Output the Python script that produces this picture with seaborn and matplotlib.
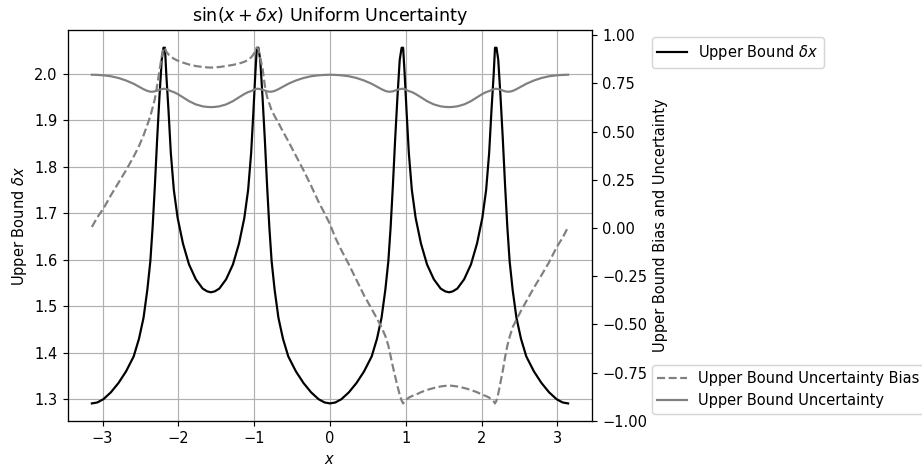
import numpy as np
import pandas as pd
import matplotlib
matplotlib.use("Agg")
import matplotlib.pyplot as plt
import seaborn as sns

# x samples
x_vals = [-3.1416, -3.07, -2.99, -2.89, -2.79, -2.69, -2.59, -2.52, -2.46, -2.41, -2.37,
          -2.34, -2.31, -2.28, -2.25, -2.22, -2.197, -2.177, -2.16, -2.13, -2.10,
          -2.06, -2.01, -1.94, -1.86, -1.77, -1.68, -1.62, -1.5708,
          -1.52, -1.46, -1.37, -1.28, -1.20, -1.13, -1.08, -1.04, -1.01, -0.985,
          -0.965, -0.945, -0.92, -0.89, -0.86, -0.83, -0.80, -0.77, -0.73,
          -0.68, -0.62, -0.55, -0.45, -0.35, -0.25, -0.15, -0.07, 0.0,
          0.07, 0.15, 0.25, 0.35, 0.45, 0.55, 0.62, 0.68, 0.73, 0.77, 0.80,
          0.83, 0.86, 0.89, 0.92, 0.945, 0.965, 0.985, 1.01, 1.04, 1.08,
          1.13, 1.20, 1.28, 1.37, 1.46, 1.52, 1.5708,
          1.62, 1.68, 1.77, 1.86, 1.94, 2.01, 2.06, 2.10, 2.13, 2.16, 2.177,
          2.197, 2.22, 2.25, 2.28, 2.31, 2.34, 2.37, 2.41, 2.46, 2.52,
          2.59, 2.69, 2.79, 2.89, 2.99, 3.07, 3.1416]

# upper bound delta x (left axis)
upper_dx = [1.291, 1.293, 1.300, 1.315, 1.335, 1.360, 1.392, 1.430, 1.475, 1.535, 1.597,
            1.670, 1.760, 1.860, 1.950, 2.030, 2.056, 2.056, 2.000, 1.920, 1.830,
            1.750, 1.690, 1.635, 1.590, 1.558, 1.538, 1.532, 1.530,
            1.532, 1.538, 1.558, 1.590, 1.635, 1.690, 1.750, 1.830, 1.920, 2.000,
            2.056, 2.056, 2.030, 1.950, 1.860, 1.760, 1.670, 1.597, 1.535,
            1.475, 1.430, 1.392, 1.360, 1.335, 1.315, 1.300, 1.293, 1.291,
            1.293, 1.300, 1.315, 1.335, 1.360, 1.392, 1.430, 1.475, 1.535, 1.597, 1.670,
            1.760, 1.860, 1.950, 2.030, 2.056, 2.056, 2.000, 1.920, 1.830, 1.750,
            1.690, 1.635, 1.590, 1.558, 1.538, 1.532, 1.530,
            1.532, 1.538, 1.558, 1.590, 1.635, 1.690, 1.750, 1.830, 1.920, 2.000, 2.056,
            2.056, 2.030, 1.950, 1.860, 1.760, 1.670, 1.597, 1.535, 1.475, 1.430,
            1.392, 1.360, 1.335, 1.315, 1.300, 1.293, 1.291]

# uncertainty bias (right axis, dashed)
unc_bias = [0.005, 0.055, 0.10, 0.17, 0.235, 0.30, 0.37, 0.425, 0.48, 0.535, 0.58,
            0.625, 0.67, 0.74, 0.815, 0.89, 0.935, 0.93, 0.915, 0.90, 0.89,
            0.878, 0.868, 0.858, 0.848, 0.84, 0.835, 0.833, 0.832,
            0.833, 0.835, 0.84, 0.846, 0.853, 0.862, 0.872, 0.885, 0.90, 0.918,
            0.935, 0.93, 0.88, 0.83, 0.74, 0.68, 0.645, 0.61, 0.58,
            0.545, 0.50, 0.45, 0.375, 0.30, 0.22, 0.135, 0.075, 0.02,
            -0.05, -0.115, -0.19, -0.27, -0.35, -0.42, -0.47, -0.515, -0.56, -0.61, -0.665,
            -0.72, -0.77, -0.82, -0.865, -0.895, -0.91, -0.90, -0.89, -0.88, -0.872,
            -0.865, -0.852, -0.84, -0.83, -0.822, -0.819, -0.817,
            -0.819, -0.822, -0.83, -0.84, -0.852, -0.865, -0.872, -0.88, -0.89, -0.90, -0.91,
            -0.895, -0.86, -0.80, -0.74, -0.67, -0.61, -0.565, -0.515, -0.475, -0.43,
            -0.38, -0.31, -0.245, -0.178, -0.10, -0.05, 0.005]

# uncertainty (right axis, solid)
unc = [0.795, 0.794, 0.792, 0.787, 0.778, 0.765, 0.748, 0.733, 0.720, 0.711, 0.707,
       0.707, 0.709, 0.713, 0.717, 0.720, 0.722, 0.722, 0.720, 0.716, 0.710,
       0.705, 0.695, 0.678, 0.658, 0.641, 0.631, 0.628, 0.627,
       0.628, 0.631, 0.641, 0.658, 0.678, 0.695, 0.705, 0.710, 0.716, 0.720,
       0.722, 0.722, 0.720, 0.717, 0.713, 0.709, 0.707, 0.707, 0.711,
       0.720, 0.733, 0.748, 0.765, 0.778, 0.787, 0.792, 0.794, 0.795,
       0.794, 0.792, 0.787, 0.778, 0.765, 0.748, 0.733, 0.720, 0.711, 0.707, 0.707,
       0.709, 0.713, 0.717, 0.720, 0.722, 0.722, 0.720, 0.716, 0.710, 0.705,
       0.695, 0.678, 0.658, 0.641, 0.631, 0.628, 0.627,
       0.628, 0.631, 0.641, 0.658, 0.678, 0.695, 0.705, 0.710, 0.716, 0.720, 0.722,
       0.722, 0.720, 0.717, 0.713, 0.709, 0.707, 0.707, 0.711, 0.720, 0.733,
       0.748, 0.765, 0.778, 0.787, 0.792, 0.794, 0.795]

df = pd.DataFrame({"x": x_vals, "dx": upper_dx, "bias": unc_bias, "unc": unc})

fig, ax = plt.subplots(figsize=(922 / 105, 468 / 105), dpi=105)
fig.subplots_adjust(left=0.0738, right=0.642, bottom=0.1, top=0.936)

sns.lineplot(data=df, x="x", y="dx", ax=ax, color="k", estimator=None,
             label=r"Upper Bound $\delta x$")
ax.grid(True)
ax.set_xlabel(r"$x$")
ax.set_ylabel(r"Upper Bound $\delta x$")
ax.set_title(r"$\sin(x + \delta x)$ Uniform Uncertainty")
ax.legend(loc="upper left", bbox_to_anchor=(1.1, 1))

ax2 = ax.twinx()
sns.lineplot(data=df, x="x", y="bias", ax=ax2, color="gray", linestyle="--",
             estimator=None, label="Upper Bound Uncertainty Bias")
sns.lineplot(data=df, x="x", y="unc", ax=ax2, color="gray", estimator=None,
             label="Upper Bound Uncertainty")
ax2.set_ylabel("Upper Bound Bias and Uncertainty")
ax2.legend(loc="lower left", bbox_to_anchor=(1.1, 0))

plt.savefig("out.png", dpi=105)
